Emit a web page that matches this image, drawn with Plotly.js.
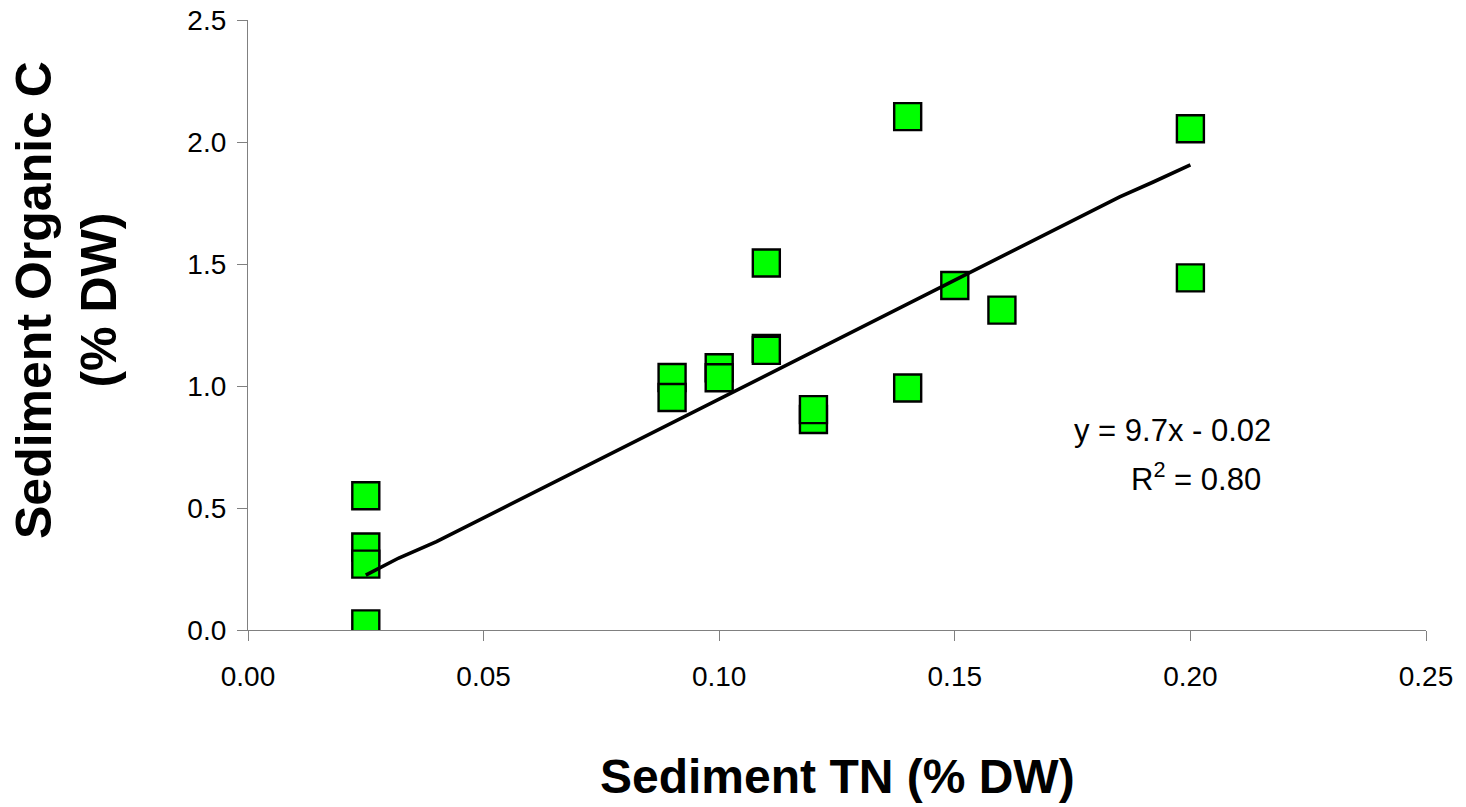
<!DOCTYPE html>
<html>
<head>
<meta charset="utf-8">
<script src="https://cdn.plot.ly/plotly-3.0.1.min.js"></script>
<style>html,body{margin:0;padding:0;background:#fff;}#chart{width:1466px;height:807px;}</style>
</head>
<body>
<div id="chart"></div>
<script>
// Sediment TN (% DW) vs Sediment Organic C (% DW), in drawing order
const tnValues = [0.025, 0.025, 0.025, 0.025, 0.09, 0.09, 0.10, 0.10, 0.11, 0.11, 0.11, 0.12, 0.12, 0.14, 0.14, 0.15, 0.16, 0.20, 0.20];
const ocValues = [0.55, 0.34, 0.27, 0.025, 1.035, 0.953, 1.075, 1.034, 1.504, 1.154, 1.146, 0.863, 0.903, 2.104, 0.992, 1.412, 1.311, 2.054, 1.443];

// trendline as drawn in the picture
const trendX = [0.025, 0.032, 0.040, 0.120, 0.185, 0.192, 0.200];
const trendY = [0.225, 0.295, 0.362, 1.140, 1.775, 1.835, 1.906];

const xTickVals = [0, 0.05, 0.10, 0.15, 0.20, 0.25];
const xTickText = ["0.00", "0.05", "0.10", "0.15", "0.20", "0.25"];
const yTickVals = [0, 0.5, 1.0, 1.5, 2.0, 2.5];
const yTickText = ["0.0", "0.5", "1.0", "1.5", "2.0", "2.5"];

const eqText = "y = 9.7x - 0.02";
const r2Text = "R<sup>2</sup> = 0.80";
const xTitle = "Sediment TN (% DW)";
const yTitle = "Sediment Organic C<br>(% DW)";

const FONT = "'Liberation Sans', Arial, sans-serif";

const traces = [
  {
    x: tnValues, y: ocValues, type: "scatter", mode: "markers",
    marker: {symbol: "square", size: 27, color: "#00FF00", line: {color: "#000000", width: 2.4}},
    hoverinfo: "x+y", showlegend: false
  },
  {
    x: trendX, y: trendY, type: "scatter", mode: "lines",
    line: {color: "#000000", width: 3.6}, hoverinfo: "skip", showlegend: false
  }
];

const axisCommon = {
  showgrid: false, zeroline: false, showline: true, linecolor: "#808080", linewidth: 1.3,
  ticks: "outside", ticklen: 10, tickcolor: "#808080", tickwidth: 1.3,
  tickfont: {family: FONT, size: 28, color: "#000"}, tickmode: "array", fixedrange: true
};

const layout = {
  width: 1466, height: 807,
  margin: {l: 248, r: 40, t: 20, b: 177},
  paper_bgcolor: "#ffffff", plot_bgcolor: "#ffffff",
  font: {family: FONT, color: "#000"},
  xaxis: Object.assign({}, axisCommon, {range: [0, 0.25], tickvals: xTickVals, ticktext: xTickText, ticklabelstandoff: 11}),
  yaxis: Object.assign({}, axisCommon, {range: [0, 2.5], tickvals: yTickVals, ticktext: yTickText, ticklabelstandoff: 5}),
  annotations: [
    {xref: "x", yref: "y", x: 0.2176, y: 0.816, text: eqText, showarrow: false, xanchor: "right", yanchor: "middle",
     font: {family: FONT, size: 31, color: "#000"}},
    {xref: "x", yref: "y", x: 0.2155, y: 0.627, text: r2Text, showarrow: false, xanchor: "right", yanchor: "middle",
     font: {family: FONT, size: 31, color: "#000"}},
    {xref: "paper", yref: "paper", x: 0.5, y: (807 - 177 - 776) / 610, text: "<b>" + xTitle + "</b>", showarrow: false,
     xanchor: "center", yanchor: "middle", font: {family: FONT, size: 48, color: "#000"}},
    {xref: "paper", yref: "paper", x: (66 - 248) / 1178, y: (630 - 300) / 610, text: "<b>" + yTitle + "</b>", showarrow: false,
     textangle: -90, xanchor: "center", yanchor: "middle", font: {family: FONT, size: 50, color: "#000"}}
  ]
};

Plotly.newPlot("chart", traces, layout, {displayModeBar: false, staticPlot: false});
</script>
</body>
</html>
